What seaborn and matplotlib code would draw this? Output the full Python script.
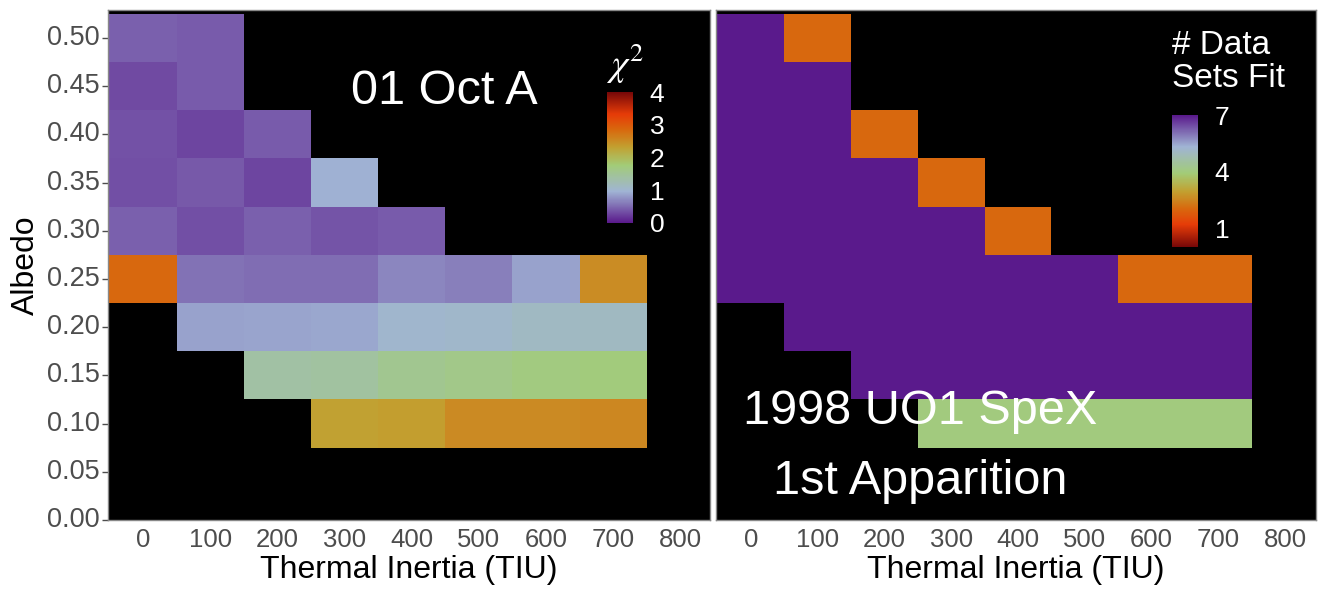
import numpy as np
import pandas as pd
import matplotlib
matplotlib.use("Agg")
import matplotlib.pyplot as plt
import seaborn as sns
from matplotlib.colors import LinearSegmentedColormap

nan = np.nan

# ---------------- data ----------------
thermal_inertia = [0, 100, 200, 300, 400, 500, 600, 700, 800]
albedo = [0.00, 0.05, 0.10, 0.15, 0.20, 0.25, 0.30, 0.35, 0.40, 0.45, 0.50]

# chi-square, "01 Oct A" (columns follow thermal_inertia)
chi2_000 = [nan, nan, nan, nan, nan, nan, nan, nan, nan]
chi2_005 = [nan, nan, nan, nan, nan, nan, nan, nan, nan]
chi2_010 = [nan, nan, nan, 2.30, 2.33, 2.52, 2.52, 2.55, nan]
chi2_015 = [nan, nan, 1.38, 1.42, 1.55, 1.62, 1.69, 1.73, nan]
chi2_020 = [nan, 0.85, 0.87, 0.88, 1.02, 1.06, 1.12, 1.14, nan]
chi2_025 = [2.85, 0.55, 0.52, 0.52, 0.68, 0.63, 0.85, 2.50, nan]
chi2_030 = [0.44, 0.33, 0.45, 0.36, 0.41, nan, nan, nan, nan]
chi2_035 = [0.33, 0.40, 0.28, 0.95, nan, nan, nan, nan, nan]
chi2_040 = [0.35, 0.28, 0.41, nan, nan, nan, nan, nan, nan]
chi2_045 = [0.30, 0.41, nan, nan, nan, nan, nan, nan, nan]
chi2_050 = [0.44, 0.41, nan, nan, nan, nan, nan, nan, nan]

# number of data sets fit, "1998 UO1 SpeX 1st Apparition"
fits_000 = [nan, nan, nan, nan, nan, nan, nan, nan, nan]
fits_005 = [nan, nan, nan, nan, nan, nan, nan, nan, nan]
fits_010 = [nan, nan, nan, 4, 4, 4, 4, 4, nan]
fits_015 = [nan, nan, 7, 7, 7, 7, 7, 7, nan]
fits_020 = [nan, 7, 7, 7, 7, 7, 7, 7, nan]
fits_025 = [7, 7, 7, 7, 7, 7, 2, 2, nan]
fits_030 = [7, 7, 7, 7, 2, nan, nan, nan, nan]
fits_035 = [7, 7, 7, 2, nan, nan, nan, nan, nan]
fits_040 = [7, 7, 2, nan, nan, nan, nan, nan, nan]
fits_045 = [7, 7, nan, nan, nan, nan, nan, nan, nan]
fits_050 = [7, 2, nan, nan, nan, nan, nan, nan, nan]

chi2_ticks = [0, 1, 2, 3, 4]
fits_ticks = [1, 4, 7]

chi2_df = pd.DataFrame([chi2_000, chi2_005, chi2_010, chi2_015, chi2_020, chi2_025,
                        chi2_030, chi2_035, chi2_040, chi2_045, chi2_050],
                       index=albedo, columns=thermal_inertia)
fits_df = pd.DataFrame([fits_000, fits_005, fits_010, fits_015, fits_020, fits_025,
                        fits_030, fits_035, fits_040, fits_045, fits_050],
                       index=albedo, columns=thermal_inertia)

# ---------------- style ----------------
sns.set_style("white")
plt.rcParams['font.family'] = ['Liberation Sans', 'DejaVu Sans']
plt.rcParams['mathtext.fontset'] = 'stix'

cmap = LinearSegmentedColormap.from_list("spec", [
    (0.00, "#5a1a8c"),
    (0.24, "#a0b4d4"),
    (0.44, "#a2cc78"),
    (0.58, "#c2a030"),
    (0.71, "#d8690e"),
    (0.83, "#e63c08"),
    (1.00, "#780808"),
])
cmap_r = cmap.reversed()

W, H = 1330, 589
fig = plt.figure(figsize=(W / 100, H / 100), dpi=100)
ax1 = fig.add_axes([108 / W, 1 - 520 / H, 602 / W, 510 / H])
ax2 = fig.add_axes([716 / W, 1 - 520 / H, 600 / W, 510 / H])
cax1 = fig.add_axes([607 / W, 1 - 223 / H, 26 / W, 131 / H])
cax2 = fig.add_axes([1172 / W, 1 - 247 / H, 26 / W, 132 / H])

sns.heatmap(chi2_df, ax=ax1, cmap=cmap, vmin=0, vmax=4, cbar_ax=cax1,
            cbar_kws={'ticks': chi2_ticks}, linewidths=0)
sns.heatmap(fits_df, ax=ax2, cmap=cmap_r, vmin=0, vmax=7, cbar_ax=cax2,
            cbar_kws={'ticks': fits_ticks}, linewidths=0)


def to_cell_x(v):
    return (np.asarray(v, dtype=float) + 50) / 100.0


def to_cell_y(v):
    return (np.asarray(v, dtype=float) + 0.025) / 0.05


for ax, xlim in ((ax1, (-52, 844)), (ax2, (-52, 846))):
    ax.set_facecolor("black")
    ax.set_xticks(to_cell_x(thermal_inertia))
    ax.set_xticklabels([str(t) for t in thermal_inertia], rotation=0)
    ax.set_xlim(to_cell_x(xlim[0]), to_cell_x(xlim[1]))
    ax.set_ylim(to_cell_y(0.0), to_cell_y(0.529))
    ax.tick_params(axis='x', length=0, pad=6, labelsize=18.5, colors='#4d4d4d')
    ax.set_xlabel("Thermal Inertia (TIU)", fontsize=23, color='black', labelpad=2)
    for s in ax.spines.values():
        s.set_visible(True)
        s.set_color('#888888')
        s.set_linewidth(1.0)

ax1.set_yticks(to_cell_y(albedo))
ax1.set_yticklabels([f"{a:.2f}" for a in albedo], rotation=0)
ax1.tick_params(axis='y', left=True, length=4, width=1, pad=2, labelsize=19.5,
                colors='#4d4d4d')
ax1.set_ylabel("Albedo", fontsize=23, color='black', labelpad=4)
ax2.set_yticks([])
ax2.set_ylabel("")

for cax in (cax1, cax2):
    cax.tick_params(length=0, labelsize=19, colors='white', pad=12)
    for s in cax.spines.values():
        s.set_visible(False)
ax1.collections[0].colorbar.outline.set_visible(False)
ax2.collections[0].colorbar.outline.set_visible(False)

fig.text(606 / W, 1 - 76 / H, r"$\chi^2$", color='white', fontsize=27,
         ha='left', va='baseline')
fig.text(1172 / W, 1 - 30 / H, "# Data\nSets Fit", color='white', fontsize=24,
         ha='left', va='top', linespacing=1.1)

fig.text(444 / W, 1 - 92 / H, "01 Oct A", color='white', fontsize=35,
         ha='center', va='center')
fig.text(920 / W, 1 - 412 / H, "1998 UO1 SpeX", color='white', fontsize=35,
         ha='center', va='center')
fig.text(920 / W, 1 - 482 / H, "1st Apparition", color='white', fontsize=35,
         ha='center', va='center')

fig.savefig("out.png", dpi=100, facecolor='white')
